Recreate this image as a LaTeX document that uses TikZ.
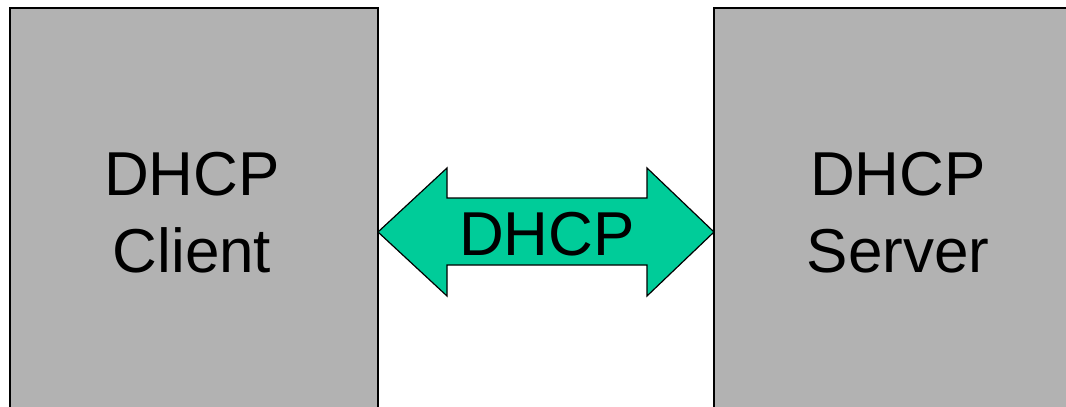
\documentclass[tikz,border=0pt]{standalone}
\usepackage{fontspec}
\setmainfont{Liberation Sans}
\definecolor{boxgray}{RGB}{178,178,178}
\definecolor{arrowgreen}{RGB}{0,204,153}
\begin{document}
\begin{tikzpicture}[x=1pt,y=-1pt,
  box/.style={draw=black, line width=1.5pt, fill=boxgray},
  lbl/.style={font=\fontsize{62}{77}\selectfont, align=center, inner sep=0pt, anchor=base},
  blockarrow/.style={draw=black, line width=1.2pt, fill=arrowgreen, line join=miter}]
\useasboundingbox (0,0) rectangle (1066,407);
\clip (0,0) rectangle (1066,407);
\fill[white] (0,0) rectangle (1066,407);
% boxes
\draw[box] (10,8) rectangle (378,430);
\draw[box] (714,8) rectangle (1090,430);
\coordinate (cl) at (378,232);
\coordinate (sv) at (714,232);
% block arrow
\draw[blockarrow] (cl) -- (447,168) -- (447,198) -- (647,198) -- (647,168)
  -- (sv) -- (647,296) -- (647,265) -- (447,265) -- (447,296) -- cycle;
% labels
\node[lbl] (c1) at (192,195) {DHCP};
\node[lbl] (c2) at (192,272) {Client};
\node[lbl] (s1) at (898,195) {DHCP};
\node[lbl] (s2) at (898,272) {Server};
\node[lbl] (a1) at (547,255) {DHCP};
\end{tikzpicture}
\end{document}
